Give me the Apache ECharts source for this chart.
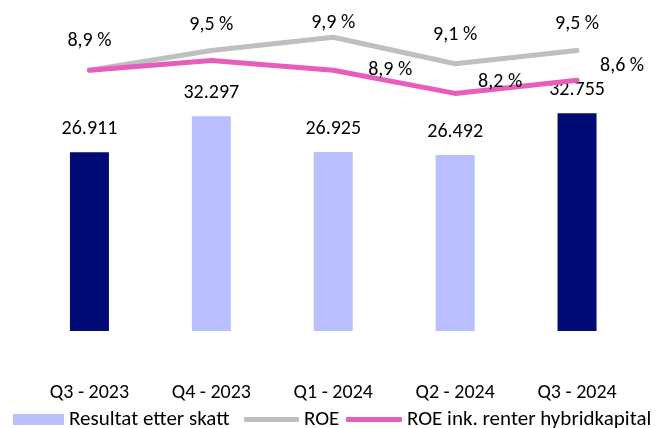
<!DOCTYPE html>
<html>
<head>
<meta charset="utf-8">
<script src="https://cdn.jsdelivr.net/npm/echarts@6/dist/echarts.min.js"></script>
<style>
html,body{margin:0;padding:0;background:#fff;}
#chart{width:667px;height:428px;}
</style>
</head>
<body>
<div id="chart"></div>
<script>
var categories = ['Q3 - 2023', 'Q4 - 2023', 'Q1 - 2024', 'Q2 - 2024', 'Q3 - 2024'];
var resultat = [26911, 32297, 26925, 26492, 32755];
var roe = [8.9, 9.5, 9.9, 9.1, 9.5];
var roeHybrid = [8.9, 9.2, 8.9, 8.2, 8.6];
var pinkLabelShown = [false, false, true, true, true];

var FONT = "Carlito, 'Liberation Sans', Arial, sans-serif";
var DARK = '#000b75', LIGHT = '#babfff', GRAY = '#bfbfbf', PINK = '#e85cbc';

function fmtThousands(v) {
  return String(v).replace(/\B(?=(\d{3})+(?!\d))/g, '.');
}
function fmtPct(v) {
  return v.toFixed(1).replace('.', ',') + ' %';
}

var barColors = [DARK, LIGHT, LIGHT, LIGHT, DARK];
var grayOffsets = [[0, -29], [0, -26], [0, -14], [0, -29], [0, -27]];
var pinkOffsets = [[0, 0], [0, 0], [57, 0], [45, -11], [45, -14]];

var chart = echarts.init(document.getElementById('chart'), null, {renderer: 'canvas'});
var legendText = {fontFamily: FONT, fontSize: 21, color: '#000'};
var option = {
  animation: false,
  textStyle: {fontFamily: FONT},
  grid: {left: 28.5, right: 29, top: 12, bottom: 97, containLabel: false},
  legend: [
    {left: 13, top: 409, itemWidth: 51, itemHeight: 11, itemGap: 6, padding: 0,
     textStyle: legendText,
     data: [{name: 'Resultat etter skatt', icon: 'rect'}]},
    {left: 244, top: 409, itemWidth: 55, itemHeight: 5, padding: 0,
     textStyle: legendText,
     itemStyle: {color: GRAY},
     data: [{name: 'ROE', icon: 'roundRect', itemStyle: {color: GRAY}}]},
    {left: 346, top: 409, itemWidth: 56, itemHeight: 5, padding: 0,
     textStyle: legendText,
     data: [{name: 'ROE ink. renter hybridkapital', icon: 'roundRect', itemStyle: {color: PINK}}]}
  ],
  xAxis: {
    type: 'category', data: categories,
    axisLine: {show: false}, axisTick: {show: false},
    axisLabel: {margin: 52, fontFamily: FONT, fontSize: 20, color: '#000'}
  },
  yAxis: [
    {type: 'value', min: 0, max: 48000, show: false, splitLine: {show: false}},
    {type: 'value', min: 1, max: 10.6667, show: false, splitLine: {show: false}}
  ],
  series: [
    {
      name: 'Resultat etter skatt', type: 'bar', yAxisIndex: 0, barWidth: 39,
      itemStyle: {color: LIGHT},
      data: resultat.map(function (v, i) { return {value: v, itemStyle: {color: barColors[i]}}; }),
      label: {show: true, position: 'top', distance: 13, fontFamily: FONT, fontSize: 20, color: '#000',
        formatter: function (p) { return fmtThousands(p.value); }}
    },
    {
      name: 'ROE', type: 'line', yAxisIndex: 1, z: 3,
      symbol: 'circle', symbolSize: 0.1, showSymbol: true,
      lineStyle: {color: GRAY, width: 5, cap: 'round', join: 'round'},
      itemStyle: {color: GRAY},
      data: roe.map(function (v, i) {
        return {value: v, label: {offset: grayOffsets[i]}};
      }),
      label: {show: true, position: 'inside', align: 'center', verticalAlign: 'middle',
        fontFamily: FONT, fontSize: 20, color: '#000',
        formatter: function (p) { return fmtPct(p.value); }}
    },
    {
      name: 'ROE ink. renter hybridkapital', type: 'line', yAxisIndex: 1, z: 4,
      symbol: 'circle', symbolSize: 0.1, showSymbol: true,
      lineStyle: {color: PINK, width: 5, cap: 'round', join: 'round'},
      itemStyle: {color: PINK},
      data: roeHybrid.map(function (v, i) {
        return {value: v, label: {show: pinkLabelShown[i], offset: pinkOffsets[i]}};
      }),
      label: {show: true, position: 'inside', align: 'center', verticalAlign: 'middle',
        fontFamily: FONT, fontSize: 20, color: '#000',
        formatter: function (p) { return fmtPct(p.value); }}
    }
  ]
};
chart.setOption(option);
</script>
</body>
</html>
